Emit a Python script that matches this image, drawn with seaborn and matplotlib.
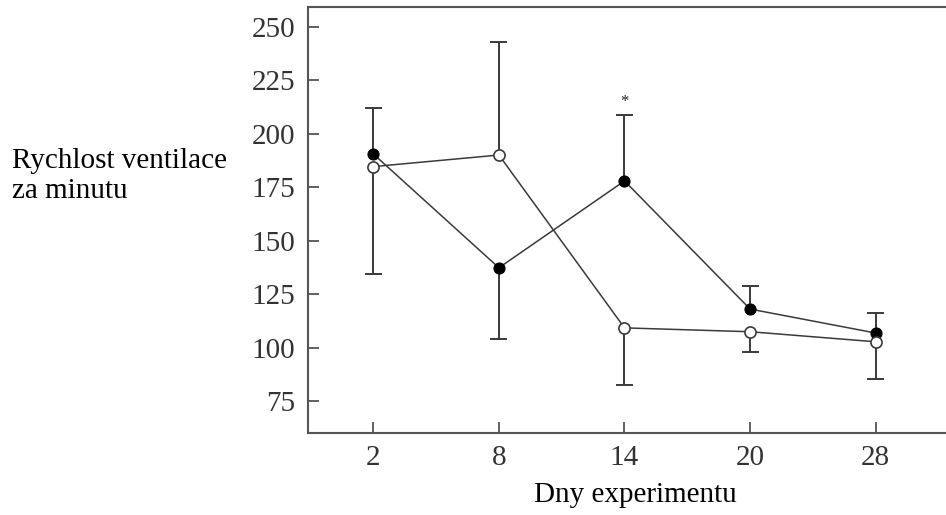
import numpy as np
import pandas as pd
import matplotlib
matplotlib.use('Agg')
import matplotlib.pyplot as plt
import seaborn as sns

# dny experimentu (kategorie na ose x)
dny = ['2', '8', '14', '20', '28']

# plné kroužky
plne = [190.5, 137.3, 177.9, 118.0, 106.8]
# konec chybové úsečky u plných (u dne 8 míří dolů)
plne_konec = [212.0, 104.0, 208.7, 128.9, 116.3]

# prázdné kroužky
prazdne = [184.6, 190.0, 109.2, 107.4, 102.7]
# konec chybové úsečky u prázdných (u dne 8 míří nahoru)
prazdne_konec = [134.6, 242.7, 82.3, 97.8, 85.2]

hvezdicka_y = 215.0

sns.set_style('ticks')
plt.rcParams['font.family'] = ['Liberation Serif', 'DejaVu Serif']

df = pd.DataFrame({'pos': np.arange(len(dny)), 'den': dny,
                   'plne': plne, 'prazdne': prazdne,
                   'plne_konec': plne_konec, 'prazdne_konec': prazdne_konec})

fig = plt.figure(figsize=(9.46, 5.15), dpi=100)
ax = fig.add_axes([0.3256, 0.1598, 0.6744, 0.8266])

seda = '#3a3a3a'
pul_kap = 0.068

# jednostranné chybové úsečky
for sl, kon in [('plne', 'plne_konec'), ('prazdne', 'prazdne_konec')]:
    ax.vlines(df['pos'], df[sl], df[kon], color=seda, linewidth=1.4, zorder=1)
    ax.hlines(df[kon], df['pos'] - pul_kap, df['pos'] + pul_kap,
              color=seda, linewidth=1.4, zorder=1)

sns.lineplot(data=df, x='pos', y='plne', ax=ax, color=seda, linewidth=1.1,
             marker='o', markersize=8, markerfacecolor='black',
             markeredgecolor='black', zorder=3)
sns.lineplot(data=df, x='pos', y='prazdne', ax=ax, color=seda, linewidth=1.1,
             marker='o', markersize=8, markerfacecolor='white',
             markeredgecolor=seda, markeredgewidth=1.2, zorder=4)

ax.text(2, hvezdicka_y, '*', ha='center', va='center', fontsize=12, color='#222')

ax.set_xlim(-0.52, 4.56)
ax.set_ylim(60.2, 259.2)
ax.set_xticks(df['pos'])
ax.set_xticklabels(dny)
ax.set_yticks([75, 100, 125, 150, 175, 200, 225, 250])

ax.tick_params(direction='in', length=8, width=1.3, color='#555',
               labelsize=21, labelcolor='#333', pad=9)
for s in ['left', 'bottom', 'top']:
    ax.spines[s].set_color('#555')
    ax.spines[s].set_linewidth(1.5)
ax.spines['right'].set_visible(False)

ax.set_xlabel('Dny experimentu', fontsize=21, color='black', va='center')
ax.xaxis.set_label_coords(0.5125, -0.146)
ax.set_ylabel('')
fig.text(12 / 946, 1 - 176 / 515, 'Rychlost ventilace\nza minutu', fontsize=21,
         ha='left', va='center', color='black', linespacing=1.2)

fig.savefig('out.png', dpi=100)
